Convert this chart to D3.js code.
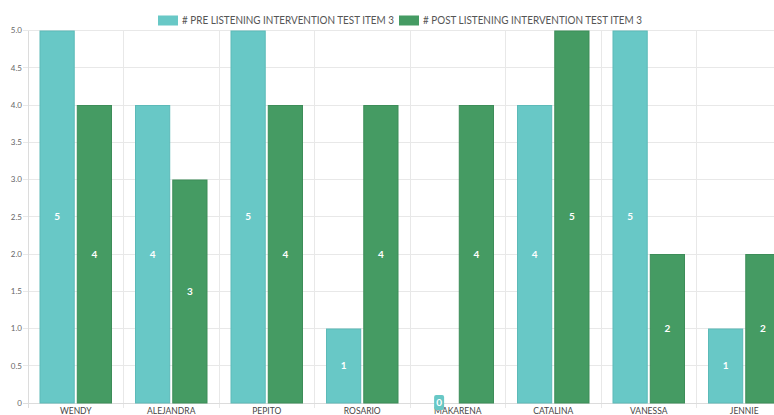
<!DOCTYPE html>
<html><head><meta charset="utf-8">
<script src="https://cdn.jsdelivr.net/npm/d3@7"></script>
<style>html,body{margin:0;padding:0;background:#fff;overflow:hidden}svg{display:block}</style>
</head><body>
<svg id="c" width="774" height="415"></svg>
<script>
const categories = ["WENDY","ALEJANDRA","PEPITO","ROSARIO","MAKARENA","CATALINA","VANESSA","JENNIE"];
const seriesNames = ["# PRE LISTENING INTERVENTION TEST ITEM 3","# POST LISTENING INTERVENTION TEST ITEM 3"];
const preValues = [5,4,5,1,0,4,5,1];
const postValues = [4,3,4,4,4,5,2,2];
const yTicks = [0,0.5,1,1.5,2,2.5,3,3.5,4,4.5,5];
const colors = ["#68c8c6","#459b63"];
const strokes = ["#5cbab8","#3d8d59"];

const svg = d3.select("#c");
const font = "Lato, 'Open Sans', sans-serif";
const x0 = 28, bandW = 95.5;
const x = d3.scaleBand().domain(categories).range([x0, x0 + bandW*categories.length]).paddingInner(0).paddingOuter(0);
const xs = d3.scaleBand().domain([0,1]).range([11.5, bandW-11.5]).paddingInner(0.055);
const y = d3.scaleLinear().domain([0,5]).range([403,30.5]);

// gridlines
svg.append("g").selectAll("line").data(yTicks).join("line")
  .attr("x1",23).attr("x2",774).attr("y1",d=>y(d)).attr("y2",d=>y(d))
  .attr("stroke","#e8e8e8").attr("stroke-width",1).attr("shape-rendering","crispEdges");
svg.append("g").selectAll("line").data(categories.slice(1)).join("line")
  .attr("x1",d=>x(d)).attr("x2",d=>x(d)).attr("y1",y(5)).attr("y2",408)
  .attr("stroke","#e8e8e8").attr("shape-rendering","crispEdges");
svg.append("line").attr("x1",x0).attr("x2",x0).attr("y1",y(5)).attr("y2",408)
  .attr("stroke","#dcdcdc").attr("shape-rendering","crispEdges");
svg.append("line").attr("x1",23).attr("x2",774).attr("y1",y(0)).attr("y2",y(0))
  .attr("stroke","#dcdcdc").attr("shape-rendering","crispEdges");

// y labels
svg.append("g").selectAll("text").data(yTicks).join("text")
  .attr("x",22).attr("y",d=>y(d)).attr("dy","0.35em").attr("text-anchor","end")
  .attr("font-family",font).attr("font-size",8).attr("fill","#666")
  .text(d=>d===0?"0":d.toFixed(1));

// x labels
svg.append("g").selectAll("text").data(categories).join("text")
  .attr("x",d=>x(d)+bandW/2).attr("y",414).attr("text-anchor","middle")
  .attr("font-family",font).attr("font-size",8.5).attr("fill","#444")
  .text(d=>d);

const data = categories.map((c,i)=>({c, vals:[preValues[i], postValues[i]]}));
const g = svg.append("g").selectAll("g").data(data).join("g")
  .attr("transform",d=>`translate(${x(d.c)},0)`);
g.selectAll("rect").data(d=>d.vals.map((v,k)=>({v,k}))).join("rect")
  .attr("x",d=>xs(d.k)+0.5).attr("width",xs.bandwidth()-1)
  .attr("y",d=>y(d.v)+0.5).attr("height",d=>Math.max(0,y(0)-y(d.v)-0.5))
  .attr("fill",d=>colors[d.k]).attr("stroke",d=>d.v>0?strokes[d.k]:"none");

// value labels
g.each(function(d){
  const gg = d3.select(this);
  d.vals.forEach((v,k)=>{
    const cx = xs(k)+xs.bandwidth()/2;
    if(v>0){
      gg.append("text").attr("x",cx).attr("y",y(v/2)).attr("dy","0.35em")
        .attr("text-anchor","middle").attr("font-family",font).attr("font-weight","bold")
        .attr("font-size",10).attr("fill","#fff").text(v);
    } else {
      gg.append("rect").attr("x",cx-5).attr("y",y(0)-8).attr("width",10).attr("height",15)
        .attr("rx",2).attr("fill",colors[k]);
      gg.append("text").attr("x",cx).attr("y",y(0)-0.5).attr("dy","0.35em")
        .attr("text-anchor","middle").attr("font-family",font).attr("font-weight","bold")
        .attr("font-size",10).attr("fill","#fff").text(v);
    }
  });
});

// legend
const leg = svg.append("g");
const legX = [158, 399];
const legW = [212, 219];
seriesNames.forEach((n,i)=>{
  leg.append("rect").attr("x",legX[i]).attr("y",15.5).attr("width",20).attr("height",10)
    .attr("fill",colors[i]);
  leg.append("text").attr("x",legX[i]+24).attr("y",20.5).attr("dy","0.35em")
    .attr("font-family",font).attr("font-size",10.5).attr("fill","#555")
    .attr("textLength",legW[i]).attr("lengthAdjust","spacingAndGlyphs").text(n);
});
</script>
</body></html>
